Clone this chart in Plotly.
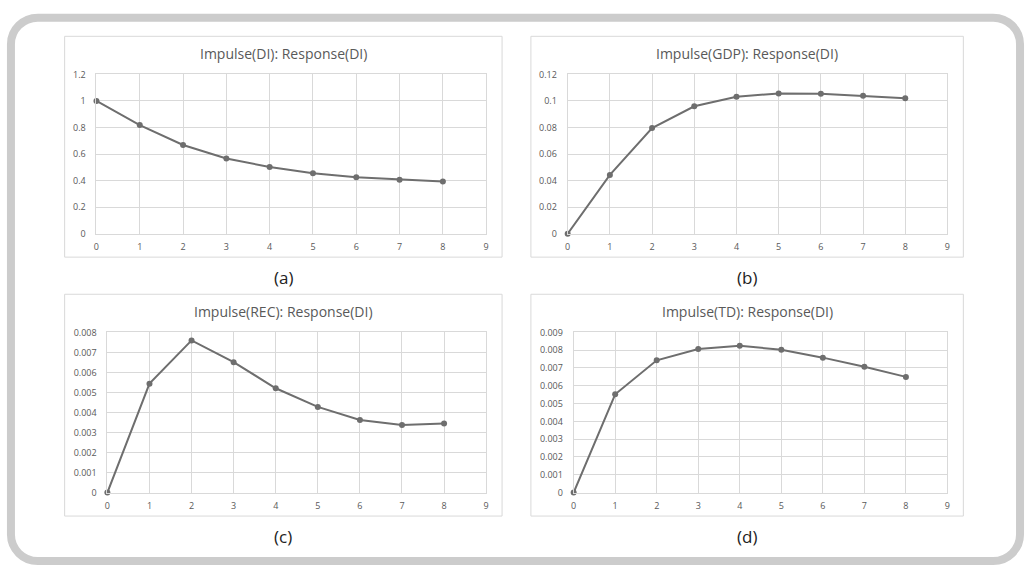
import plotly.graph_objects as go

W, H = 1027, 567

periods = [0, 1, 2, 3, 4, 5, 6, 7, 8]
resp_di = [1.0, 0.818, 0.668, 0.567, 0.502, 0.456, 0.425, 0.407, 0.394]
resp_gdp = [0.0, 0.0443, 0.0796, 0.0960, 0.1032, 0.1057, 0.1055, 0.1040, 0.1021]
resp_rec = [0.0, 0.00544, 0.00760, 0.00651, 0.00521, 0.00428, 0.00363, 0.00337, 0.00345]
resp_td = [0.0, 0.00552, 0.00743, 0.00807, 0.00825, 0.00802, 0.00758, 0.00707, 0.00650]

titles = ["Impulse(DI): Response(DI)", "Impulse(GDP): Response(DI)",
          "Impulse(REC): Response(DI)", "Impulse(TD): Response(DI)"]
labels = ["(a)", "(b)", "(c)", "(d)"]
series = [resp_di, resp_gdp, resp_rec, resp_td]
y_max = [1.2, 0.12, 0.008, 0.009]
y_step = [0.2, 0.02, 0.001, 0.001]

# layout geometry in pixels
boxes = [(62, 30, 502, 256), (531, 30, 966, 256), (62, 294, 502, 521), (531, 294, 966, 521)]
plots = [(94, 69, 486, 232), (568, 69, 950, 232), (105, 333, 486, 497), (574, 333, 950, 497)]
title_y = [48, 48, 312, 312]
label_y = [277, 277, 542, 542]

FONT = "Open Sans"
LINE = "#6e6e6e"
GRID = "#d9d9d9"
TXT = "#595959"

def px(x):
    return x / W

def py(y):
    return 1 - y / H

fig = go.Figure()
layout = dict(width=W, height=H, margin=dict(l=0, r=0, t=0, b=0),
              paper_bgcolor="white", plot_bgcolor="rgba(0,0,0,0)",
              showlegend=False, shapes=[], annotations=[])

for i in range(4):
    sfx = "" if i == 0 else str(i + 1)
    fig.add_trace(go.Scatter(x=periods, y=series[i], mode="lines+markers",
                             line=dict(color=LINE, width=2),
                             marker=dict(color=LINE, size=6),
                             cliponaxis=False,
                             xaxis="x" + sfx, yaxis="y" + sfx, hoverinfo="x+y"))
    x0, y0, x1, y1 = plots[i]
    layout["xaxis" + sfx] = dict(domain=[px(x0), px(x1)], range=[0, 9], dtick=1, tick0=0,
                                 showgrid=True, gridcolor=GRID, gridwidth=1,
                                 showline=True, linecolor=GRID, linewidth=1, mirror=True,
                                 zeroline=False, ticks="", ticklabelstandoff=5,
                                 tickfont=dict(family=FONT, size=9, color=TXT),
                                 anchor="y" + sfx, fixedrange=True)
    layout["yaxis" + sfx] = dict(domain=[py(y1), py(y0)], range=[0, y_max[i]], dtick=y_step[i], tick0=0,
                                 showgrid=True, gridcolor=GRID, gridwidth=1,
                                 showline=True, linecolor=GRID, linewidth=1, mirror=True,
                                 zeroline=False, ticks="", ticklabelstandoff=8,
                                 tickfont=dict(family=FONT, size=9, color=TXT),
                                 anchor="x" + sfx, fixedrange=True)
    bx0, by0, bx1, by1 = boxes[i]
    layout["shapes"].append(dict(type="rect", xref="paper", yref="paper", layer="below",
                                 x0=px(bx0), x1=px(bx1), y0=py(by1), y1=py(by0),
                                 line=dict(color=GRID, width=1), fillcolor="white"))
    cx = (bx0 + bx1) / 2
    layout["annotations"].append(dict(text=titles[i], xref="paper", yref="paper",
                                      x=px(cx), y=py(title_y[i]), showarrow=False,
                                      xanchor="center", yanchor="middle",
                                      font=dict(family=FONT, size=14, color=TXT)))
    layout["annotations"].append(dict(text=labels[i], xref="paper", yref="paper",
                                      x=px(cx), y=py(label_y[i]), showarrow=False,
                                      xanchor="center", yanchor="middle",
                                      font=dict(family=FONT, size=17, color="#222222")))

# outer rounded frame
L, T, R, B, rad = 8, 11, 1023, 567, 27
k = 0.5523 * rad
def P(x, y):
    return f"{px(x):.5f},{py(y):.5f}"
path = ("M " + P(L + rad, T) + " L " + P(R - rad, T) +
        " C " + P(R - rad + k, T) + " " + P(R, T + rad - k) + " " + P(R, T + rad) +
        " L " + P(R, B - rad) +
        " C " + P(R, B - rad + k) + " " + P(R - rad + k, B) + " " + P(R - rad, B) +
        " L " + P(L + rad, B) +
        " C " + P(L + rad - k, B) + " " + P(L, B - rad + k) + " " + P(L, B - rad) +
        " L " + P(L, T + rad) +
        " C " + P(L, T + rad - k) + " " + P(L + rad - k, T) + " " + P(L + rad, T) + " Z")
layout["shapes"].append(dict(type="path", path=path, xref="paper", yref="paper", layer="below",
                             line=dict(color="#cccccc", width=8)))

fig.update_layout(**layout)
fig.write_html("out.html")
